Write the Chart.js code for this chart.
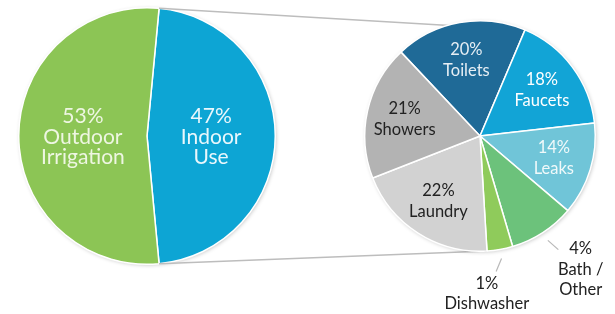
<!DOCTYPE html>
<html><head><meta charset="utf-8">
<script src="https://cdn.jsdelivr.net/npm/chart.js@4/dist/chart.umd.min.js"></script>
<style>
html,body{margin:0;padding:0;background:#fff;}
#wrap{position:relative;width:615px;height:314px;overflow:hidden;background:#fff;}
canvas{position:absolute;left:0;top:0;}
</style></head><body>
<div id="wrap"><canvas id="big" width="615" height="314"></canvas><canvas id="small" width="615" height="314"></canvas></div>
<script>
// ---- data ----
const bigCategories = ['Indoor Use', 'Outdoor Irrigation'];
const bigValues = [47, 53];
const bigPercentLabels = ['47%', '53%'];
const bigNameLines = [['Indoor', 'Use'], ['Outdoor', 'Irrigation']];

const indoorCategories = ['Toilets', 'Faucets', 'Leaks', 'Bath / Other', 'Dishwasher', 'Laundry', 'Showers'];
// slice shares as drawn in the picture
const indoorShares = [18.4, 16.8, 13.0, 9.2, 3.6, 20.0, 18.9];
// percentages as printed on the picture
const indoorPercentLabels = ['20%', '18%', '14%', '4%', '1%', '22%', '21%'];
const indoorNameLines = [['Toilets'], ['Faucets'], ['Leaks'], ['Bath /', 'Other'], ['Dishwasher'], ['Laundry'], ['Showers']];

// ---- styles ----
const FONT = 'Lato, "Open Sans", sans-serif';
const bigColors = ['#0da5d4', '#8cc555'];
const bigTextColors = ['#eaf7fc', '#eef6e2'];
const indoorColors = ['#1f6a97', '#12a4d6', '#70c5d8', '#6cc27b', '#8fcb5b', '#d2d2d2', '#b3b3b3'];
const indoorTextColors = ['#e6eef4', '#ffffff', '#f0f9fa', '#222222', '#222222', '#222222', '#222222'];
const outsideIdx = { 3: { dAng: -4, rf: 1.45 }, 4: { dAng: 7.5, rf: 1.37 } };

function drawTextBlock(ctx, lines, cx, cy, lh, color, font) {
  ctx.save();
  ctx.font = font; ctx.fillStyle = color;
  ctx.textAlign = 'center'; ctx.textBaseline = 'middle';
  lines.forEach((t, i) => ctx.fillText(t, cx, cy + (i - (lines.length - 1) / 2) * lh));
  ctx.restore();
}

function shadowPlugin(id) {
  return {
    id: id,
    beforeDatasetsDraw(chart) {
      const a = chart.getDatasetMeta(0).data[0];
      const ctx = chart.ctx;
      ctx.save();
      ctx.shadowColor = 'rgba(0,0,0,0.28)';
      ctx.shadowBlur = 4; ctx.shadowOffsetX = 1; ctx.shadowOffsetY = 1;
      ctx.fillStyle = '#ffffff';
      ctx.beginPath(); ctx.arc(a.x, a.y, a.outerRadius - 0.5, 0, Math.PI * 2); ctx.fill();
      ctx.restore();
    }
  };
}

const bigLabelPlugin = {
  id: 'bigLabels',
  afterDatasetsDraw(chart) {
    const ctx = chart.ctx;
    chart.getDatasetMeta(0).data.forEach((arc, i) => {
      const mid = (arc.startAngle + arc.endAngle) / 2;
      const r = arc.outerRadius * 0.5;
      const x = arc.x + r * Math.cos(mid), y = arc.y + r * Math.sin(mid) + 1;
      drawTextBlock(ctx, [bigPercentLabels[i]].concat(bigNameLines[i]), x, y, 20.5, bigTextColors[i], '21px ' + FONT);
    });
  }
};

const bigChart = new Chart(document.getElementById('big'), {
  type: 'pie',
  data: {
    labels: bigCategories,
    datasets: [{ data: bigValues, backgroundColor: bigColors, borderColor: '#ffffff', borderWidth: 1.5 }]
  },
  options: {
    responsive: false, animation: false, devicePixelRatio: 1, events: [],
    rotation: 5.4,
    layout: { padding: { left: 18, right: 339, top: 7, bottom: 49 } },
    plugins: { legend: { display: false }, tooltip: { enabled: false } }
  },
  plugins: [shadowPlugin('bigShadow'), bigLabelPlugin]
});

const connectorPlugin = {
  id: 'connectors',
  beforeDatasetsDraw(chart) {
    const b = bigChart.getDatasetMeta(0).data[0];
    const arcs = chart.getDatasetMeta(0).data;
    const s1 = arcs[1], s2 = arcs[4];
    const p = (a, ang) => [a.x + a.outerRadius * Math.cos(ang), a.y + a.outerRadius * Math.sin(ang)];
    const bt = p(b, b.startAngle), bb = p(b, b.endAngle);
    const st = p(s1, s1.startAngle), sb = p(s2, s2.endAngle);
    const ctx = chart.ctx;
    ctx.save();
    ctx.strokeStyle = '#bdbdbd'; ctx.lineWidth = 1.5;
    ctx.beginPath(); ctx.moveTo(bt[0], bt[1]); ctx.lineTo(st[0], st[1]); ctx.stroke();
    ctx.beginPath(); ctx.moveTo(bb[0], bb[1]); ctx.lineTo(sb[0], sb[1]); ctx.stroke();
    ctx.restore();
  }
};

const indoorLabelPlugin = {
  id: 'indoorLabels',
  afterDatasetsDraw(chart) {
    const ctx = chart.ctx;
    chart.getDatasetMeta(0).data.forEach((arc, i) => {
      const mid = (arc.startAngle + arc.endAngle) / 2;
      const lines = [indoorPercentLabels[i]].concat(indoorNameLines[i]);
      const font = '16.5px ' + FONT;
      if (outsideIdx[i]) {
        const o = outsideIdx[i];
        const ang = mid + o.dAng * Math.PI / 180;
        const tx = arc.x + arc.outerRadius * o.rf * Math.cos(ang);
        const ty = arc.y + arc.outerRadius * o.rf * Math.sin(ang);
        const sx = arc.x + arc.outerRadius * 1.08 * Math.cos(mid);
        const sy = arc.y + arc.outerRadius * 1.08 * Math.sin(mid);
        const dx = tx - sx, dy = ty - sy, len = Math.hypot(dx, dy);
        ctx.save();
        ctx.strokeStyle = '#b8b8b8'; ctx.lineWidth = 1.2;
        ctx.beginPath(); ctx.moveTo(sx, sy); ctx.lineTo(sx + dx / len * 14, sy + dy / len * 14); ctx.stroke();
        ctx.restore();
        drawTextBlock(ctx, lines, tx, ty, 20.5, indoorTextColors[i], font);
      } else {
        const r = arc.outerRadius * 0.67;
        const x = arc.x + r * Math.cos(mid), y = arc.y + r * Math.sin(mid);
        drawTextBlock(ctx, lines, x, y, 21, indoorTextColors[i], font);
      }
    });
  }
};

const indoorChart = new Chart(document.getElementById('small'), {
  type: 'pie',
  data: {
    labels: indoorCategories,
    datasets: [{ data: indoorShares, backgroundColor: indoorColors, borderColor: '#ffffff', borderWidth: 1.5 }]
  },
  options: {
    responsive: false, animation: false, devicePixelRatio: 1, events: [],
    rotation: 316.7,
    layout: { padding: { left: 364, right: 19, top: 20, bottom: 62 } },
    plugins: { legend: { display: false }, tooltip: { enabled: false } }
  },
  plugins: [connectorPlugin, shadowPlugin('smallShadow'), indoorLabelPlugin]
});
</script>
</body></html>
